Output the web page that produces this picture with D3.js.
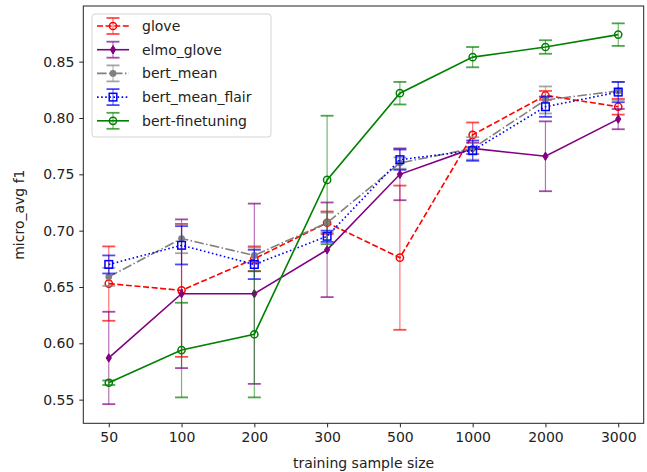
<!DOCTYPE html>
<html>
<head>
<meta charset="utf-8">
<script src="https://cdn.jsdelivr.net/npm/d3@7"></script>
<style>
  body { margin: 0; background: #fff; }
  text { font-family: "DejaVu Sans", sans-serif; fill: #222; }
</style>
</head>
<body>
<svg id="chart"></svg>
<script>
// sample sizes on the x axis
let sizes = ['50', '100', '200', '300', '500', '1000', '2000', '3000'];

// mean micro_avg f1 for each model
let glove = [0.653, 0.647, 0.675, 0.707, 0.676, 0.785, 0.820, 0.810];
let elmoGlove = [0.587, 0.644, 0.644, 0.683, 0.750, 0.773, 0.766, 0.799];
let bertMean = [0.659, 0.693, 0.678, 0.707, 0.760, 0.773, 0.816, 0.824];
let bertMeanFlair = [0.670, 0.687, 0.670, 0.695, 0.763, 0.771, 0.810, 0.823];
let bertFinetuning = [0.565, 0.594, 0.608, 0.745, 0.822, 0.854, 0.863, 0.874];

// standard deviations (error bars)
let gloveErr = [0.033, 0.059, 0.011, 0.010, 0.064, 0.011, 0.004, 0.007];
let elmoGloveErr = [0.041, 0.066, 0.080, 0.042, 0.023, 0.005, 0.031, 0.009];
let bertMeanErr = [0.008, 0.013, 0.007, 0.009, 0.005, 0.010, 0.012, 0.008];
let bertMeanFlairErr = [0.008, 0.017, 0.013, 0.005, 0.009, 0.009, 0.009, 0.009];
let bertFinetuningErr = [0.002, 0.042, 0.056, 0.057, 0.010, 0.009, 0.006, 0.010];

let yTicks = [0.55, 0.60, 0.65, 0.70, 0.75, 0.80, 0.85];

let series = [
  { name: 'glove', values: glove, err: gloveErr, color: '#ff0000', dash: '6,2.6', marker: 'circleOpen' },
  { name: 'elmo_glove', values: elmoGlove, err: elmoGloveErr, color: '#800080', dash: null, marker: 'thinDiamond' },
  { name: 'bert_mean', values: bertMean, err: bertMeanErr, color: '#808080', dash: '9.6,2.4,1.5,2.4', marker: 'dot' },
  { name: 'bert_mean_flair', values: bertMeanFlair, err: bertMeanFlairErr, color: '#0000ff', dash: '1.6,2.5', marker: 'squareOpen' },
  { name: 'bert-finetuning', values: bertFinetuning, err: bertFinetuningErr, color: '#008000', dash: null, marker: 'circleOpen' }
];

let width = 647;
let height = 472;
let margin = { top: 6, right: 3.3, bottom: 48.7, left: 83.3 };
let fontSize = '14px';

let svg = d3.select('#chart').attr('width', width).attr('height', height);

let xScale = d3.scalePoint()
  .domain(sizes)
  .range([margin.left, width - margin.right])
  .padding(0.35);

let yScale = d3.scaleLinear()
  .domain([0.529, 0.8994])
  .range([height - margin.bottom, margin.top]);

// axes
let xAxis = d3.axisBottom(xScale).tickSizeOuter(0).tickSize(4).tickPadding(5);
let yAxis = d3.axisLeft(yScale).tickValues(yTicks).tickFormat(d3.format('.2f'))
  .tickSizeOuter(0).tickSize(4).tickPadding(5);

let gx = svg.append('g')
  .attr('transform', 'translate(0,' + (height - margin.bottom) + ')')
  .call(xAxis);
let gy = svg.append('g')
  .attr('transform', 'translate(' + margin.left + ',0)')
  .call(yAxis);
[gx, gy].forEach(g => {
  g.select('.domain').remove();
  g.selectAll('.tick line').attr('stroke', '#222').attr('stroke-width', 1);
  g.selectAll('.tick text').style('font-size', fontSize).attr('fill', '#222');
});

// frame
svg.append('rect')
  .attr('x', margin.left)
  .attr('y', margin.top)
  .attr('width', width - margin.left - margin.right)
  .attr('height', height - margin.top - margin.bottom)
  .attr('fill', 'none')
  .attr('stroke', '#222')
  .attr('stroke-width', 1);

svg.append('text')
  .attr('x', (margin.left + width - margin.right) / 2)
  .attr('y', height - 4)
  .attr('text-anchor', 'middle')
  .style('font-size', fontSize)
  .text('training sample size');

svg.append('text')
  .attr('transform', 'translate(24,' + ((margin.top + height - margin.bottom) / 2) + ') rotate(-90)')
  .attr('text-anchor', 'middle')
  .style('font-size', fontSize)
  .text('micro_avg f1');

let capW = 6.5;

function drawMarker(g, type, color, x, y) {
  if (type === 'circleOpen') {
    g.append('circle').attr('cx', x).attr('cy', y).attr('r', 3.6)
      .attr('fill', 'none').attr('stroke', color).attr('stroke-width', 1.5);
  } else if (type === 'squareOpen') {
    g.append('rect').attr('x', x - 3.8).attr('y', y - 3.8).attr('width', 7.6).attr('height', 7.6)
      .attr('fill', 'none').attr('stroke', color).attr('stroke-width', 1.5);
  } else if (type === 'thinDiamond') {
    g.append('path')
      .attr('d', 'M' + x + ',' + (y - 4.2) + 'L' + (x + 2.6) + ',' + y + 'L' + x + ',' + (y + 4.2) + 'L' + (x - 2.6) + ',' + y + 'Z')
      .attr('fill', color).attr('stroke', color).attr('stroke-width', 1);
  } else {
    g.append('circle').attr('cx', x).attr('cy', y).attr('r', 3.4).attr('fill', color);
  }
}

let line = d3.line()
  .x((d, i) => xScale(sizes[i]))
  .y(d => yScale(d));

series.forEach(s => {
  let g = svg.append('g');
  // error bars
  s.values.forEach((v, i) => {
    let x = xScale(sizes[i]);
    let yTop = yScale(v + s.err[i]);
    let yBot = yScale(v - s.err[i]);
    g.append('line').attr('x1', x).attr('x2', x).attr('y1', yTop).attr('y2', yBot)
      .attr('stroke', s.color).attr('stroke-width', 1.2).attr('opacity', 0.55);
    [yTop, yBot].forEach(yc => {
      g.append('line').attr('x1', x - capW).attr('x2', x + capW).attr('y1', yc).attr('y2', yc)
        .attr('stroke', s.color).attr('stroke-width', 1.8).attr('opacity', 0.7);
    });
  });
  g.append('path')
    .attr('d', line(s.values))
    .attr('fill', 'none')
    .attr('stroke', s.color)
    .attr('stroke-width', 1.6)
    .attr('stroke-dasharray', s.dash);
  s.values.forEach((v, i) => drawMarker(g, s.marker, s.color, xScale(sizes[i]), yScale(v)));
});

// legend
let legend = svg.append('g');
legend.append('rect')
  .attr('x', 92).attr('y', 14).attr('width', 179).attr('height', 123)
  .attr('rx', 3)
  .attr('fill', '#fff').attr('fill-opacity', 0.85)
  .attr('stroke', '#d4d4d4').attr('stroke-width', 1);

series.forEach((s, i) => {
  let cy = 26 + i * 23.7;
  let cx = 113;
  legend.append('line').attr('x1', 97).attr('x2', 129).attr('y1', cy).attr('y2', cy)
    .attr('stroke', s.color).attr('stroke-width', 1.6).attr('stroke-dasharray', s.dash);
  legend.append('line').attr('x1', cx).attr('x2', cx).attr('y1', cy - 8).attr('y2', cy + 8)
    .attr('stroke', s.color).attr('stroke-width', 1.2).attr('opacity', 0.55);
  [cy - 8, cy + 8].forEach(yc => {
    legend.append('line').attr('x1', cx - capW).attr('x2', cx + capW).attr('y1', yc).attr('y2', yc)
      .attr('stroke', s.color).attr('stroke-width', 1.8).attr('opacity', 0.7);
  });
  drawMarker(legend, s.marker, s.color, cx, cy);
  legend.append('text')
    .attr('x', 142).attr('y', cy)
    .attr('dy', '0.35em')
    .style('font-size', fontSize)
    .text(s.name);
});
</script>
</body>
</html>
